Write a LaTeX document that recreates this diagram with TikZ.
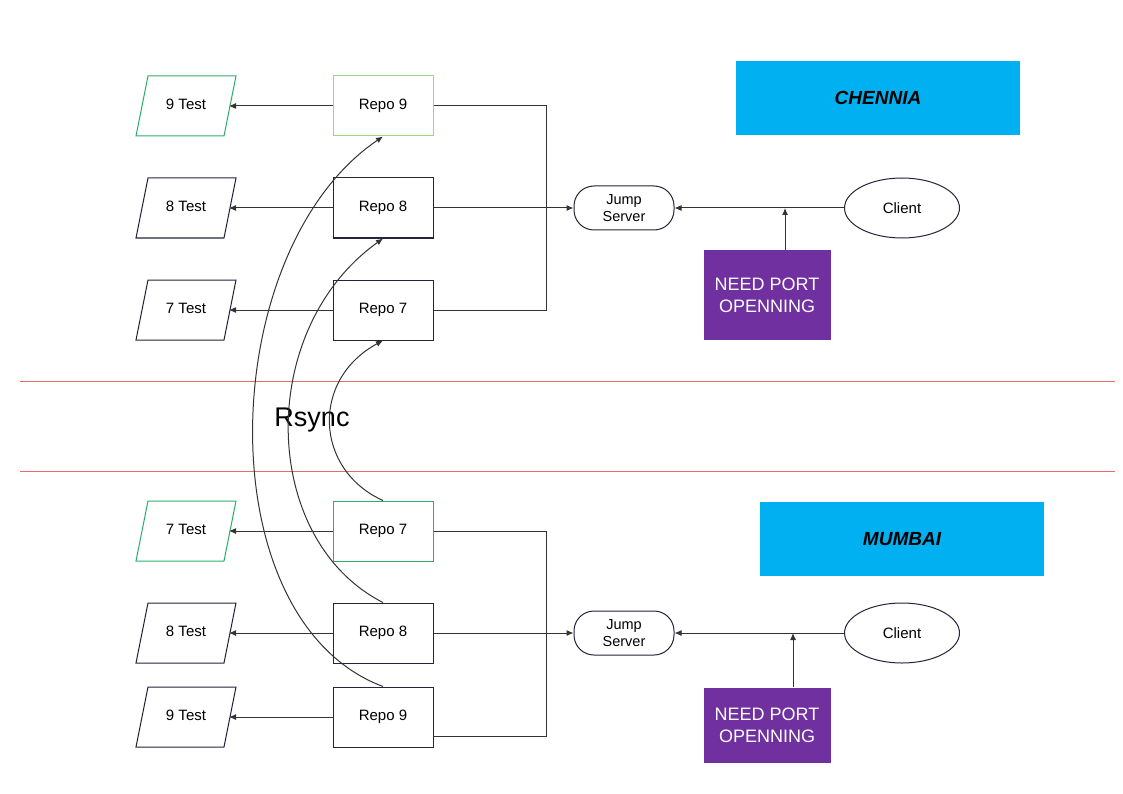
\documentclass[tikz,border=0pt]{standalone}
\usepackage{fontspec}
\setmainfont{Liberation Sans}
\usetikzlibrary{arrows.meta,shapes.geometric}
\definecolor{nav}{HTML}{23253A}
\definecolor{gr}{HTML}{2FAE6A}
\definecolor{lgr}{HTML}{9ED67E}
\definecolor{sky}{HTML}{00B0F0}
\definecolor{pur}{HTML}{7030A0}
\definecolor{redl}{HTML}{EA6B66}
\begin{document}
\begin{tikzpicture}[x=1pt,y=-1pt,line width=1pt,
  repo/.style={draw=nav,minimum width=100pt,minimum height=60pt,font=\fontsize{15}{17}\selectfont},
  lbl/.style={font=\fontsize{15}{17}\selectfont},
  con/.style={draw=black!80,-{Latex[length=7pt,width=6pt]}},
  jump/.style={draw=nav,rounded corners=20pt,minimum width=100pt,minimum height=44pt,align=center,inner sep=1pt,font=\fontsize{14.5}{17}\selectfont},
  cli/.style={draw=nav,ellipse,minimum width=115pt,minimum height=60pt,font=\fontsize{15}{17}\selectfont},
  port/.style={fill=pur,minimum width=127pt,text=white,align=center,font=\fontsize{18}{22}\selectfont},
  city/.style={fill=sky,minimum width=284pt,minimum height=74pt,font=\fontsize{19}{22}\selectfont\bfseries\itshape}]
\fill[white] (0,0) rectangle (1123,794);
\useasboundingbox (0,0) rectangle (1123,794);
\newcommand{\para}[4]{\draw[draw=#4] (#1-50,#2+30)--(#1-38,#2-30)--(#1+50,#2-30)--(#1+38,#2+30)--cycle;
  \node[lbl] (#3) at (#1,#2) {};}
% top
\para{186}{106}{t9}{gr}\node[lbl] at (186,104){9 Test};
\para{186}{208}{t8}{nav}\node[lbl] at (186,206){8 Test};
\para{186}{310}{t7}{nav}\node[lbl] at (186,308){7 Test};
\node[repo,draw=lgr] (r9) at (383,106){Repo 9};
\node[repo] (r8) at (383,208){Repo 8};
\node[repo] (r7) at (383,310){Repo 7};
\coordinate (a9) at (229,106);\coordinate (a8) at (229,208);\coordinate (a7) at (229,310);
\draw[con] (r9.west)--(a9);\draw[con] (r8.west)--(a8);\draw[con] (r7.west)--(a7);
\node[jump] (j1) at (624,208){Jump\\Server};
\node[cli] (c1) at (902,208){Client};
\draw[draw=black!80] (r9.east)-|(546,310)--(r7.east);
\draw[con] (r8.east)--(j1.west);
\draw[con] (c1.west)--(j1.east);
\node[port,minimum height=90pt] (p1) at (767,295){NEED PORT\\OPENNING};
\coordinate (q1) at (785,208);
\draw[con] (p1.north-|q1)--(q1);
\node[city] (ch) at (878,98){CHENNIA};
% separators
\draw[redl] (20,381)--(1115,381);
\draw[redl] (20,471)--(1115,471);
\node[font=\fontsize{27}{30}\selectfont] (rs) at (312,420){Rsync};
% bottom
\para{186}{531}{b7}{gr}\node[lbl] at (186,529){7 Test};
\para{186}{633}{b8}{nav}\node[lbl] at (186,631){8 Test};
\para{186}{717}{b9}{nav}\node[lbl] at (186,715){9 Test};
\node[repo,draw=gr] (s7) at (383,531){Repo 7};
\node[repo] (s8) at (383,633){Repo 8};
\node[repo] (s9) at (383,717){Repo 9};
\coordinate (d7) at (229,531);\coordinate (d8) at (229,633);\coordinate (d9) at (229,717);
\draw[con] (s7.west)--(d7);\draw[con] (s8.west)--(d8);\draw[con] (s9.west)--(d9);
\node[jump] (j2) at (624,633){Jump\\Server};
\node[cli] (c2) at (902,633){Client};
\draw[draw=black!80] (s7.east)-|(546,736)--(433,736);
\draw[con] (s8.east)--(j2.west);
\draw[con] (c2.west)--(j2.east);
\node[port,minimum height=75pt] (p2) at (767,725){NEED PORT\\OPENNING};
\coordinate (q2) at (793,633);
\draw[con] (p2.north-|q2)--(q2);
\node[city] (mu) at (902,539){MUMBAI};
% rsync curves
\draw[con] (s7.north) .. controls (315,470) and (310,380) .. (r7.south);
\draw[con] (s8.north) .. controls (260,540) and (255,330) .. (r8.south);
\draw[con] (s9.north) .. controls (205,620) and (215,250) .. (r9.south);
\end{tikzpicture}
\end{document}
